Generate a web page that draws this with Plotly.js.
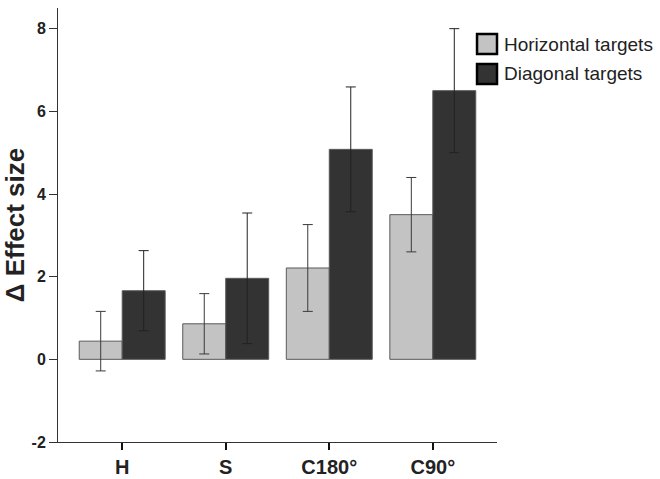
<!DOCTYPE html>
<html>
<head>
<meta charset="utf-8">
<script src="https://cdn.plot.ly/plotly-3.0.1.min.js"></script>
<style>html,body{margin:0;padding:0;background:#fff;}#chart{width:660px;height:479px;}</style>
</head>
<body>
<div id="chart"></div>
<script>
const categories = ['H', 'S', 'C180°', 'C90°'];
const horizontalValues = [0.44, 0.86, 2.21, 3.50];
const horizontalErrors = [0.72, 0.73, 1.05, 0.90];
const diagonalValues = [1.66, 1.96, 5.08, 6.50];
const diagonalErrors = [0.97, 1.58, 1.51, 1.50];
const seriesNames = ['Horizontal targets', 'Diagonal targets'];
const yTicks = [-2, 0, 2, 4, 6, 8];

const lightFill = '#c3c3c3';
const darkFill = '#333333';
const font = 'Liberation Sans, Arial, Helvetica, sans-serif';

const traces = [
  {
    type: 'bar', name: seriesNames[0], x: categories, y: horizontalValues,
    marker: {color: lightFill, line: {color: '#5a5a5a', width: 1}},
    error_y: {type: 'data', array: horizontalErrors, visible: true, color: '#3a3a3a', thickness: 1, width: 5},
    showlegend: false
  },
  {
    type: 'bar', name: seriesNames[1], x: categories, y: diagonalValues,
    marker: {color: darkFill, line: {color: '#5a5a5a', width: 1}},
    error_y: {type: 'data', array: diagonalErrors, visible: true, color: '#222222', thickness: 1, width: 5},
    showlegend: false
  }
];

// custom legend (boxes + labels) in paper coordinates
const legendRows = [
  {y0: 0.894, y1: 0.940, fill: lightFill, text: seriesNames[0]},
  {y0: 0.825, y1: 0.871, fill: darkFill, text: seriesNames[1]}
];
const shapes = legendRows.map(r => ({
  type: 'rect', xref: 'paper', yref: 'paper', x0: 0.9545, x1: 1.0, y0: r.y0, y1: r.y1,
  fillcolor: r.fill, line: {color: '#000', width: 2.5}
}));
const annotations = legendRows.map(r => ({
  xref: 'paper', yref: 'paper', x: 1.0114, y: (r.y0 + r.y1) / 2, xanchor: 'left', yanchor: 'middle',
  text: r.text, showarrow: false, font: {family: font, size: 19, color: '#222'}
}));

const layout = {
  width: 660, height: 479,
  margin: {l: 58, r: 163, t: 8, b: 37, pad: 0},
  paper_bgcolor: '#fff', plot_bgcolor: '#fff',
  barmode: 'group', bargap: 0.17, bargroupgap: 0,
  showlegend: false,
  xaxis: {
    type: 'category', range: [-0.62, 3.62],
    showline: true, linecolor: '#333', linewidth: 1,
    ticks: 'outside', ticklen: 7, tickwidth: 2, tickcolor: '#111',
    showgrid: false, zeroline: false,
    tickfont: {family: font, size: 20, color: '#222', weight: 'bold'}
  },
  yaxis: {
    range: [-2, 8.5], tickvals: yTicks, ticktext: yTicks.map(String),
    showline: true, linecolor: '#333', linewidth: 1,
    ticks: 'outside', ticklen: 8, tickwidth: 1, tickcolor: '#333',
    showgrid: false, zeroline: false,
    tickfont: {family: font, size: 16, color: '#222', weight: 'bold'},
    title: {text: 'Δ Effect size', font: {family: font, size: 26, color: '#222', weight: 'bold'}, standoff: 6}
  },
  shapes: shapes,
  annotations: annotations
};

Plotly.newPlot('chart', traces, layout, {displayModeBar: false, staticPlot: true});
</script>
</body>
</html>
